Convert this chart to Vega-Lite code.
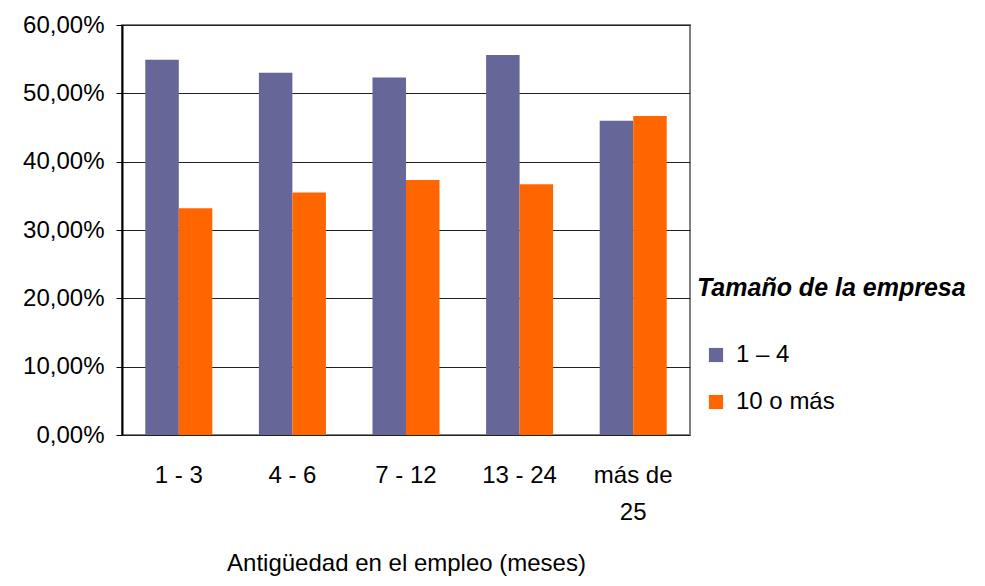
{
  "$schema": "https://vega.github.io/schema/vega-lite/v6.json",
  "autosize": {"type": "none"},
  "padding": {"left": 122, "top": 25, "right": 295, "bottom": 151},
  "width": 568,
  "height": 410,
  "background": "white",
  "config": {
    "font": "Liberation Sans",
    "view": {"stroke": "#808080", "strokeWidth": 2}
  },
  "data": {
    "values": [
      {"antiguedad": "1 - 3", "tamano": "1 – 4", "valor": 54.9},
      {"antiguedad": "1 - 3", "tamano": "10 o más", "valor": 33.2},
      {"antiguedad": "4 - 6", "tamano": "1 – 4", "valor": 53.0},
      {"antiguedad": "4 - 6", "tamano": "10 o más", "valor": 35.5},
      {"antiguedad": "7 - 12", "tamano": "1 – 4", "valor": 52.3},
      {"antiguedad": "7 - 12", "tamano": "10 o más", "valor": 37.3},
      {"antiguedad": "13 - 24", "tamano": "1 – 4", "valor": 55.6},
      {"antiguedad": "13 - 24", "tamano": "10 o más", "valor": 36.7},
      {"antiguedad": "más de 25", "tamano": "1 – 4", "valor": 46.0},
      {"antiguedad": "más de 25", "tamano": "10 o más", "valor": 46.7}
    ]
  },
  "mark": {"type": "bar"},
  "encoding": {
    "x": {
      "field": "antiguedad",
      "type": "nominal",
      "sort": null,
      "scale": {"paddingInner": 0.41, "paddingOuter": 0.205},
      "axis": {
        "title": "Antigüedad en el empleo (meses)",
        "titleFontSize": 24,
        "titleFontWeight": "normal",
        "titleColor": "black",
        "titlePadding": 27,
        "labelFontSize": 24,
        "labelColor": "black",
        "labelAngle": 0,
        "labelPadding": 28,
        "labelLineHeight": 37,
        "labelExpr": "datum.label == 'más de 25' ? ['más de', '25'] : datum.label",
        "ticks": false,
        "domain": false,
        "grid": false
      }
    },
    "xOffset": {"field": "tamano", "type": "nominal", "scale": {"paddingInner": 0}},
    "y": {
      "field": "valor",
      "type": "quantitative",
      "scale": {"domain": [0, 60], "nice": false},
      "axis": {
        "title": null,
        "values": [0, 10, 20, 30, 40, 50, 60],
        "labelExpr": "replace(format(datum.value, '.2f'), '.', ',') + '%'",
        "labelFontSize": 24,
        "labelColor": "black",
        "labelPadding": 12,
        "tickSize": 6,
        "tickColor": "black",
        "domainColor": "black",
        "domainWidth": 2,
        "gridColor": "#222222",
        "gridOpacity": 1,
        "gridWidth": 1
      }
    },
    "color": {
      "field": "tamano",
      "type": "nominal",
      "scale": {"domain": ["1 – 4", "10 o más"], "range": ["#666699", "#FF6600"]},
      "legend": {
        "title": "Tamaño de la empresa",
        "orient": "none",
        "legendX": 575,
        "legendY": 251,
        "titleFontSize": 25,
        "titleLimit": 400,
        "titleFontStyle": "italic",
        "titleFontWeight": "bold",
        "titleColor": "black",
        "titlePadding": 42,
        "labelFontSize": 24,
        "labelColor": "black",
        "labelOffset": 8,
        "symbolOffset": 7,
        "symbolType": "square",
        "symbolSize": 200,
        "symbolStrokeWidth": 0,
        "symbolOpacity": 1,
        "rowPadding": 23,
        "padding": 0,
        "offset": 0
      }
    }
  }
}
